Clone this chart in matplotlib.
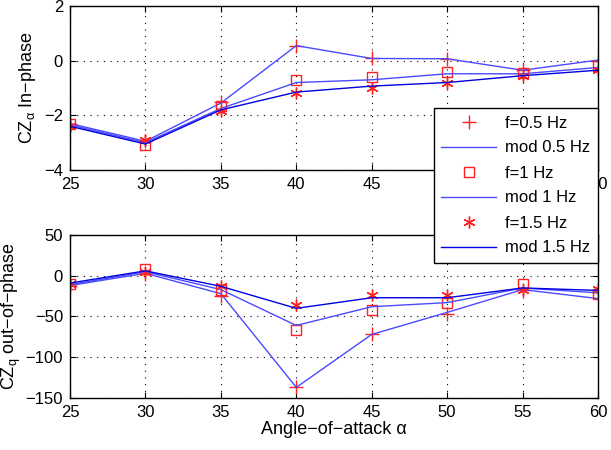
import matplotlib
matplotlib.use("Agg")
import matplotlib.pyplot as plt

plt.rcParams['font.family'] = ['Liberation Sans', 'DejaVu Sans']
plt.rcParams['mathtext.fontset'] = 'custom'
plt.rcParams['mathtext.rm'] = 'Liberation Sans'
plt.rcParams['mathtext.it'] = 'Liberation Sans:italic'

alpha = [25, 30, 35, 40, 45, 50, 55, 60]

# in-phase derivative CZ_alpha
cza_f05 = [-2.30, -2.95, -1.50, 0.55, 0.08, 0.07, -0.35, 0.00]
cza_mod05 = [-2.30, -2.95, -1.55, 0.55, 0.08, 0.07, -0.35, 0.02]
cza_f1 = [-2.30, -3.10, -1.65, -0.70, -0.58, -0.40, -0.45, -0.20]
cza_mod1 = [-2.35, -3.00, -1.75, -0.80, -0.70, -0.48, -0.48, -0.25]
cza_f15 = [-2.40, -2.90, -1.85, -1.20, -1.00, -0.83, -0.55, -0.35]
cza_mod15 = [-2.40, -3.05, -1.80, -1.15, -0.93, -0.80, -0.55, -0.35]

# out-of-phase derivative CZ_q
czq_f05 = [-12, 2, -25, -137, -72, -47, -17, -20]
czq_mod05 = [-12, 3, -22, -137, -72, -45, -17, -28]
czq_f1 = [-10, 8, -18, -66, -42, -33, -10, -22]
czq_mod1 = [-11, 5, -17, -61, -38, -33, -15, -21]
czq_f15 = [-10, 5, -12, -36, -24, -24, -17, -16]
czq_mod15 = [-9, 6, -13, -40, -27, -27, -15, -18]

red = '#ff2020'
blue_l = '#4a4aff'
blue_d = '#0000e0'

fig = plt.figure(figsize=(6.11, 4.5), dpi=100)
ax1 = fig.add_axes([0.1146, 0.6222, 0.8641, 0.3645])
ax2 = fig.add_axes([0.1146, 0.1156, 0.8641, 0.3622])


def draw(ax, f05, m05, f1, m1, f15, m15):
    h = []
    h += ax.plot(alpha, f05, linestyle='none', marker='+', ms=10, mew=1.0, color=red)
    h += ax.plot(alpha, m05, color=blue_l, lw=1.0)
    h += ax.plot(alpha, f1, linestyle='none', marker='s', ms=7.5, mfc='none', mew=1.0, color=red)
    h += ax.plot(alpha, m1, color=blue_l, lw=1.0)
    h += ax.plot(alpha, f15, linestyle='none', marker=(6, 2, 0), ms=8.5, mew=1.0, color=red)
    h += ax.plot(alpha, m15, color=blue_d, lw=1.0)
    ax.set_xlim(25, 60)
    ax.set_xticks(alpha)
    ax.grid(True, color='black', linestyle=(0, (1, 5)), lw=0.8)
    ax.tick_params(direction='in', labelsize=12, length=4, top=True, right=True, pad=5)
    for s in ax.spines.values():
        s.set_linewidth(1.0)
    return h


handles = draw(ax1, cza_f05, cza_mod05, cza_f1, cza_mod1, cza_f15, cza_mod15)
ax1.set_ylim(-4, 2)
ax1.set_yticks([-4, -2, 0, 2])
ax1.set_yticklabels(['\u22124', '\u22122', '0', '2'])
ax1.set_ylabel('CZ$_{\\mathrm{\\alpha}}$ In\u2212phase', fontsize=13, labelpad=4)

draw(ax2, czq_f05, czq_mod05, czq_f1, czq_mod1, czq_f15, czq_mod15)
ax2.set_ylim(-150, 50)
ax2.set_yticks([-150, -100, -50, 0, 50])
ax2.set_yticklabels(['\u2212150', '\u2212100', '\u221250', '0', '50'])
ax2.set_ylabel('CZ$_{\\mathrm{q}}$ out\u2212of\u2212phase', fontsize=13, labelpad=2)
ax2.set_xlabel('Angle\u2212of\u2212attack \u03b1', fontsize=13, labelpad=1)

labels = ['f=0.5 Hz', 'mod 0.5 Hz', 'f=1 Hz', 'mod 1 Hz', 'f=1.5 Hz', 'mod 1.5 Hz']
leg = fig.legend(handles, labels, loc='upper right',
                 bbox_to_anchor=(598 / 611, 1 - 108 / 450), borderaxespad=0,
                 fontsize=12, frameon=True, fancybox=False, edgecolor='black',
                 framealpha=1, handlelength=3.3, borderpad=0.45, labelspacing=0.6,
                 handletextpad=0.55)
leg.get_frame().set_linewidth(1.0)

fig.savefig('out.png', dpi=100)
